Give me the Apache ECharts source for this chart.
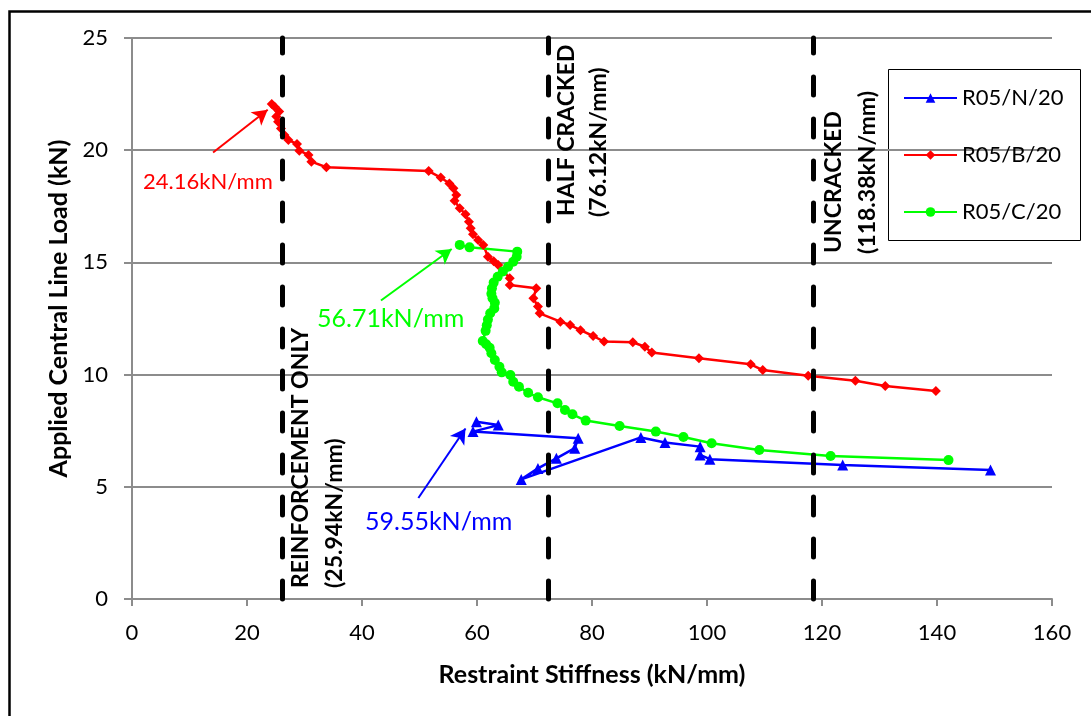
<!DOCTYPE html>
<html>
<head>
<meta charset="utf-8">
<script src="https://cdn.jsdelivr.net/npm/echarts@6/dist/echarts.min.js"></script>
<style>
html,body{margin:0;padding:0;background:#fff;}
#chart{width:1091px;height:716px;}
</style>
</head>
<body>
<div id="chart"></div>
<script>
// ---- data ----
const seriesNames = ['R05/N/20', 'R05/B/20', 'R05/C/20'];

// R05/N/20 : [stiffness kN/mm, load kN]
const dataN = [
  [59.9,7.90],[63.7,7.75],[59.3,7.46],[77.6,7.16],[77.0,6.72],[73.8,6.27],
  [70.6,5.82],[67.7,5.33],[88.5,7.20],[92.7,6.97],[98.8,6.79],[98.8,6.42],
  [100.5,6.23],[123.6,5.97],[149.3,5.75]
];

// R05/B/20
const dataB = [
  [24.3,22.06],[24.8,21.94],[25.6,21.72],[25.1,21.50],[25.4,21.27],[25.9,20.97],
  [26.5,20.68],[27.2,20.45],[28.7,20.28],[29.1,19.98],[30.7,19.79],[31.2,19.49],
  [33.8,19.24],[51.6,19.07],[53.7,18.78],[55.2,18.52],[55.9,18.30],[56.4,18.00],
  [56.1,17.75],[57.0,17.41],[58.0,17.15],[58.6,16.81],[58.9,16.52],[59.3,16.25],
  [60.2,16.00],[61.1,15.78],[61.9,15.25],[62.9,15.05],[63.7,14.88],[65.7,14.29],
  [65.7,13.99],[70.3,13.85],[69.8,13.40],[70.6,13.03],[70.9,12.73],[74.5,12.36],
  [76.2,12.21],[78.0,11.98],[80.2,11.72],[82.1,11.47],[87.1,11.44],[89.2,11.24],
  [90.4,10.98],[98.6,10.73],[107.6,10.46],[109.7,10.20],[117.6,9.95],[125.8,9.73],
  [131.0,9.49],[139.8,9.27]
];

// R05/C/20
const dataC = [
  [57.0,15.78],[58.7,15.67],[67.0,15.48],[66.9,15.25],[66.3,15.03],[65.4,14.81],
  [64.5,14.60],[63.6,14.36],[62.9,14.10],[62.6,13.85],[62.5,13.60],[62.7,13.40],
  [63.1,13.20],[63.0,12.95],[62.3,12.73],[61.9,12.45],[61.7,12.20],[61.5,11.95],
  [61.0,11.50],[61.6,11.35],[62.2,11.20],[62.5,10.95],[63.1,10.65],[63.9,10.35],
  [64.3,10.10],[65.8,9.98],[66.3,9.68],[67.3,9.46],[68.9,9.19],[70.6,8.99],
  [74.0,8.72],[75.3,8.42],[76.6,8.23],[78.9,7.95],[84.8,7.71],[91.1,7.46],
  [95.9,7.22],[100.8,6.94],[109.1,6.64],[121.5,6.37],[142.0,6.19]
];

// reference stiffness lines (positions as drawn) and their labels
const refLinesX = [26.1, 72.4, 118.4];
const refLabels = [
  ['REINFORCEMENT ONLY', '(25.94kN/mm)'],
  ['HALF CRACKED', '(76.12kN/mm)'],
  ['UNCRACKED', '(118.38kN/mm)']
];

// annotation arrows: [tail, tip] in data coordinates, and their texts
const arrowRed   = [[14.1,19.9],[23.6,21.8]];
const arrowGreen = [[43.3,13.3],[55.6,15.6]];
const arrowBlue  = [[49.8,4.5],[58.0,7.6]];
const annoTexts = ['24.16kN/mm', '56.71kN/mm', '59.55kN/mm'];

const xTicks = {min:0, max:160, interval:20};
const yTicks = {min:0, max:25, interval:5};

// ---- chart ----
const FONT = 'Lato, Carlito, Calibri, sans-serif';
const BLUE = '#0000ff', RED = '#ff0000', GREEN = '#00ff00';
const GRIDC = '#8c8c8c';

const chart = echarts.init(document.getElementById('chart'), null, {renderer:'canvas'});

function arrowItem(a, color){
  return [
    {coord:a[0], lineStyle:{color:color, width:2, type:'solid'}},
    {coord:a[1]}
  ];
}

function vText(x, y, text, size){
  return {type:'text', x:x, y:y, rotation:Math.PI/2, z:10,
    style:{text:text, font:'bold '+size+'px '+FONT, fill:'#000', textAlign:'left', textVerticalAlign:'middle'}};
}
function hText(x, y, text, size, color){
  return {type:'text', x:x, y:y, z:10,
    style:{text:text, font:size+'px '+FONT, fill:color, textAlign:'left', textVerticalAlign:'middle'}};
}

const option = {
  animation:false,
  backgroundColor:'#ffffff',
  textStyle:{fontFamily:FONT},
  grid:{left:132, right:39, top:38, bottom:117, containLabel:false},
  xAxis:{
    type:'value', min:xTicks.min, max:xTicks.max, interval:xTicks.interval,
    name:'Restraint Stiffness (kN/mm)', nameLocation:'middle', nameGap:63,
    nameTextStyle:{fontFamily:FONT, fontSize:25, fontWeight:'bold', color:'#000'},
    axisLine:{show:true, lineStyle:{color:GRIDC, width:2}},
    axisTick:{show:true, inside:false, length:7, lineStyle:{color:GRIDC, width:2}},
    axisLabel:{fontFamily:FONT, fontSize:22, color:'#000', margin:23},
    splitLine:{show:false}
  },
  yAxis:{
    type:'value', min:yTicks.min, max:yTicks.max, interval:yTicks.interval,
    name:'Applied Central Line Load (kN)', nameLocation:'middle', nameGap:59,
    nameTextStyle:{fontFamily:FONT, fontSize:25, fontWeight:'bold', color:'#000', padding:[0,0,0,20]},
    axisLine:{show:true, lineStyle:{color:GRIDC, width:2}},
    axisTick:{show:true, inside:false, length:8, lineStyle:{color:GRIDC, width:2}},
    axisLabel:{fontFamily:FONT, fontSize:22, color:'#000', margin:24},
    splitLine:{show:true, lineStyle:{color:GRIDC, width:2}}
  },
  legend:{
    orient:'vertical', left:888, top:69,
    padding:[17,10,17,15],
    itemWidth:53, itemHeight:12, itemGap:33,
    textStyle:{fontFamily:FONT, fontSize:22, color:'#000', lineHeight:24},
    data:seriesNames
  },
  series:[
    {
      name:seriesNames[0], type:'line', data:dataN,
      symbol:'triangle', symbolSize:11, showSymbol:true,
      itemStyle:{color:BLUE}, lineStyle:{color:BLUE, width:2.5}, z:3
    },
    {
      name:seriesNames[1], type:'line', data:dataB,
      symbol:'diamond', symbolSize:10, showSymbol:true,
      itemStyle:{color:RED}, lineStyle:{color:RED, width:2.5}, z:3
    },
    {
      name:seriesNames[2], type:'line', data:dataC,
      symbol:'circle', symbolSize:10, showSymbol:true,
      itemStyle:{color:GREEN}, lineStyle:{color:GREEN, width:2.5}, z:3
    },
    {
      name:'reference lines', type:'line', data:[], silent:true,
      markLine:{
        silent:true, symbol:['none','none'], animation:false,
        label:{show:false},
        lineStyle:{color:'#000', width:5, type:[18,24], cap:'round'},
        data: refLinesX.map(x => [{coord:[x, yTicks.min]}, {coord:[x, yTicks.max]}])
      },
      z:5
    },
    {
      name:'annotations', type:'line', data:[], silent:true,
      markLine:{
        silent:true, symbol:['none','arrow'], symbolSize:[13,15], animation:false,
        label:{show:false},
        data:[arrowItem(arrowRed, RED), arrowItem(arrowGreen, GREEN), arrowItem(arrowBlue, BLUE)]
      },
      z:6
    }
  ],
  graphic:[
    // outer chart border (left/top visible)
    {type:'rect', left:7, top:9, shape:{x:0, y:0, width:1100, height:720},
     style:{fill:null, stroke:'#000', lineWidth:2.5}, silent:true, z:-1},
    // legend box
    {type:'rect', shape:{x:888.5, y:69.5, width:192, height:171},
     style:{fill:null, stroke:'#000', lineWidth:1}, silent:true},
    // rotated reference labels
    vText(301, 588, refLabels[0][0], 23),
    vText(335, 588, refLabels[0][1], 23),
    vText(567, 216, refLabels[1][0], 23),
    vText(599, 217, refLabels[1][1], 23),
    vText(834, 253, refLabels[2][0], 23),
    vText(868, 254, refLabels[2][1], 23),
    // annotation texts
    hText(143, 182, annoTexts[0], 22, RED),
    hText(317, 319, annoTexts[1], 25, GREEN),
    hText(365, 522, annoTexts[2], 25, BLUE)
  ]
};

chart.setOption(option);
</script>
</body>
</html>
